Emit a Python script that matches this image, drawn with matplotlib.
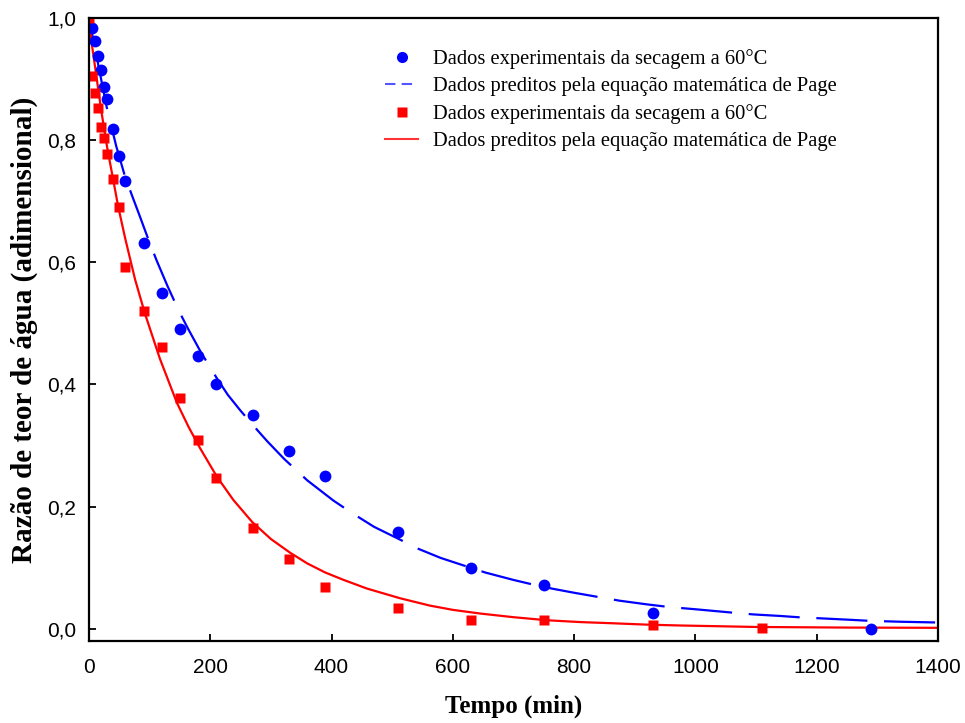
import numpy as np
import matplotlib
matplotlib.use('Agg')
import matplotlib.pyplot as plt
from matplotlib.lines import Line2D

# experimental points (tempo em min, razao de teor de agua)
t_blue = [5, 10, 15, 20, 25, 30, 40, 50, 60, 90, 120, 150, 180, 210, 270, 330, 390, 510, 630, 750, 930, 1290]
mr_blue = [0.984, 0.962, 0.938, 0.915, 0.887, 0.867, 0.818, 0.774, 0.733, 0.632, 0.550, 0.491, 0.447, 0.401,
           0.350, 0.291, 0.250, 0.159, 0.100, 0.072, 0.026, 0.0]

t_red = [0, 5, 10, 15, 20, 25, 30, 40, 50, 60, 90, 120, 150, 180, 210, 270, 330, 390, 510, 630, 750, 930, 1110]
mr_red = [1.0, 0.905, 0.877, 0.853, 0.822, 0.804, 0.777, 0.736, 0.691, 0.592, 0.520, 0.462, 0.378, 0.309,
          0.247, 0.165, 0.115, 0.069, 0.034, 0.015, 0.015, 0.007, 0.002]

# Page model curves
t_fit_blue = [0, 5, 15, 29, 45, 59, 70, 84, 100, 112, 130, 148, 163, 185, 211, 229, 250, 277, 294, 322, 360,
              403, 433, 470, 515, 543, 580, 623, 654, 700, 734, 765, 800, 846, 875, 920, 958, 1000, 1066, 1096,
              1140, 1176, 1205, 1250, 1288, 1340, 1400]
mr_fit_blue = [1.0, 0.975, 0.925, 0.855, 0.79, 0.742, 0.712, 0.675, 0.632, 0.602, 0.56, 0.521, 0.492, 0.452,
               0.41, 0.383, 0.357, 0.326, 0.307, 0.278, 0.243, 0.21, 0.19, 0.167, 0.145, 0.131, 0.116, 0.102,
               0.092, 0.080, 0.072, 0.0655, 0.059, 0.051, 0.046, 0.040, 0.0355, 0.032, 0.026, 0.0235, 0.021,
               0.0185, 0.0172, 0.015, 0.013, 0.0115, 0.0103]

t_fit_red = [0, 5, 11.5, 20, 30, 40, 48, 60, 76, 92, 117, 145, 164, 183, 211, 238, 269, 300, 331, 360, 390,
             420, 458, 513, 562, 600, 645, 700, 755, 810, 865, 920, 975, 1100, 1250, 1400]
mr_fit_red = [1.0, 0.955, 0.91, 0.85, 0.788, 0.735, 0.692, 0.638, 0.572, 0.517, 0.442, 0.37, 0.331, 0.296,
              0.249, 0.211, 0.175, 0.147, 0.125, 0.107, 0.092, 0.08, 0.066, 0.05, 0.038, 0.031, 0.025, 0.019,
              0.014, 0.011, 0.009, 0.0068, 0.0054, 0.003, 0.002, 0.0016]

labels = ['Dados experimentais da secagem a 60°C',
          'Dados preditos pela equação matemática de Page',
          'Dados experimentais da secagem a 60°C',
          'Dados preditos pela equação matemática de Page']

xticks = [0, 200, 400, 600, 800, 1000, 1200, 1400]
yticks = [0.0, 0.2, 0.4, 0.6, 0.8, 1.0]

serif = ['Liberation Serif', 'DejaVu Serif']
sans = ['Liberation Sans', 'DejaVu Sans']

fig = plt.figure(figsize=(9.65, 7.23), dpi=100)
ax = fig.add_axes([0.0922, 0.1134, 0.8798, 0.8617])

ax.plot(t_fit_blue, mr_fit_blue, color='#0000ff', lw=1.6, ls=(11.7, (23, 7.5)))
ax.plot(t_fit_red, mr_fit_red, color='#ff0000', lw=1.6)
ax.plot(t_blue, mr_blue, 'o', color='#0000ff', ms=8.5, mec='none')
ax.plot(t_red, mr_red, 's', color='#ff0000', ms=7.5, mec='none')

ax.set_xlim(0, 1400)
ax.set_ylim(-0.02, 1.0)
ax.set_xticks(xticks)
ax.set_yticks(yticks)
ax.set_xticklabels([str(x) for x in xticks], family=sans, fontsize=15)
ax.set_yticklabels([('%.1f' % y).replace('.', ',') for y in yticks], family=sans, fontsize=15)
ax.tick_params(direction='in', length=5, width=1.3)
ax.tick_params(axis='x', pad=12)
ax.tick_params(axis='y', pad=9)
for s in ax.spines.values():
    s.set_linewidth(1.6)

ax.set_xlabel('Tempo (min)', family=serif, fontsize=18, fontweight='bold', labelpad=13)
ax.set_ylabel('Razão de teor de água (adimensional)', family=serif, fontsize=21, fontweight='bold', labelpad=7)

handles = [
    Line2D([], [], ls='none', marker='o', color='#0000ff', ms=8, mec='none'),
    Line2D([], [], color='#5555ff', lw=1.5, ls=(0, (5, 3))),
    Line2D([], [], ls='none', marker='s', color='#ff0000', ms=7, mec='none'),
    Line2D([], [], color='#ff3333', lw=1.5),
]
ax.legend(handles, labels, loc='upper left', bbox_to_anchor=(0.327, 0.98), frameon=False,
          prop={'family': serif, 'size': 14.8}, handlelength=1.6, handletextpad=0.75,
          labelspacing=0.38)

fig.savefig('out.png', dpi=100)
